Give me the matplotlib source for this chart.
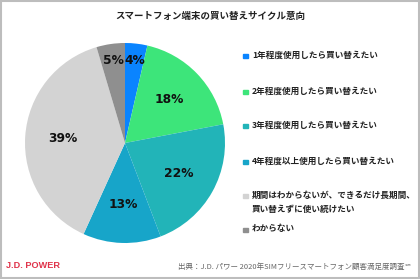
import matplotlib

matplotlib.use("Agg")
import matplotlib.pyplot as plt
import numpy as np
from matplotlib.patches import Rectangle

plt.rcParams["font.family"] = ["Noto Sans CJK JP", "DejaVu Sans"]

TITLE = "スマートフォン端末の買い替えサイクル意向"
categories = [
    "1年程度使用したら買い替えたい",
    "2年程度使用したら買い替えたい",
    "3年程度使用したら買い替えたい",
    "4年程度以上使用したら買い替えたい",
    "期間はわからないが、できるだけ長期間、\n買い替えずに使い続けたい",
    "わからない",
]
shares = [3.6, 18.4, 22.2, 12.6, 38.6, 4.6]
colors = ["#0a84ff", "#3de57a", "#22b4b8", "#17a5c9", "#d3d3d3", "#8f8f8f"]
SOURCE = "出典：J.D. パワー 2020年SIMフリースマートフォン顧客満足度調査℠"
BRAND = "J.D. POWER"

W, H = 420, 279
fig = plt.figure(figsize=(W / 100, H / 100), dpi=100)

# pie: centre (125, 143) px, radius 100 px
cx, cy, r = 125, 143, 100
ax = fig.add_axes([(cx - r) / W, (H - cy - r) / H, 2 * r / W, 2 * r / H])
wedges, _, autotexts = ax.pie(
    shares,
    colors=colors,
    startangle=90,
    counterclock=False,
    radius=1.0,
    autopct="%.0f%%",
    pctdistance=0.62,
    textprops=dict(family="DejaVu Sans", fontsize=8.8, fontweight="bold", color="#111111"),
)
ax.set_xlim(-1, 1)
ax.set_ylim(-1, 1)
ax.set_aspect("equal")
ax.axis("off")

# small slices: push the label outwards
for wedge, text, share in zip(wedges, autotexts, shares):
    if share < 6:
        mid = np.deg2rad((wedge.theta1 + wedge.theta2) / 2)
        text.set_position((0.83 * np.cos(mid), 0.83 * np.sin(mid)))

fig.text(0.5, 1 - 16 / H, TITLE, ha="center", va="center", fontsize=6.8, fontweight="bold", color="#222222")

# legend
legend_y = [56, 92, 126, 162, 196, 230]
for label, color, y in zip(categories, colors, legend_y):
    fig.add_artist(Rectangle((243 / W, 1 - (y + 2.2) / H), 4.6 / W, 4.6 / H, color=color, transform=fig.transFigure))
    fig.text(252 / W, 1 - (y - 5.5) / H, label, ha="left", va="top", fontsize=6.2, fontweight="bold",
             color="#222222", linespacing=1.75)

fig.text(6 / W, 1 - 266 / H, BRAND, ha="left", va="center", family="Liberation Sans", fontsize=6.6,
         fontweight="bold", color="#e0334a")
fig.text(412 / W, 1 - 267 / H, SOURCE, ha="right", va="center", fontsize=5.4, color="#666666")

fig.add_artist(Rectangle((0.002, 0.003), 0.995, 0.994, fill=False, edgecolor="#bdbdbd", linewidth=1.5,
                         transform=fig.transFigure))

fig.savefig("out.png", dpi=100)
plt.close(fig)
